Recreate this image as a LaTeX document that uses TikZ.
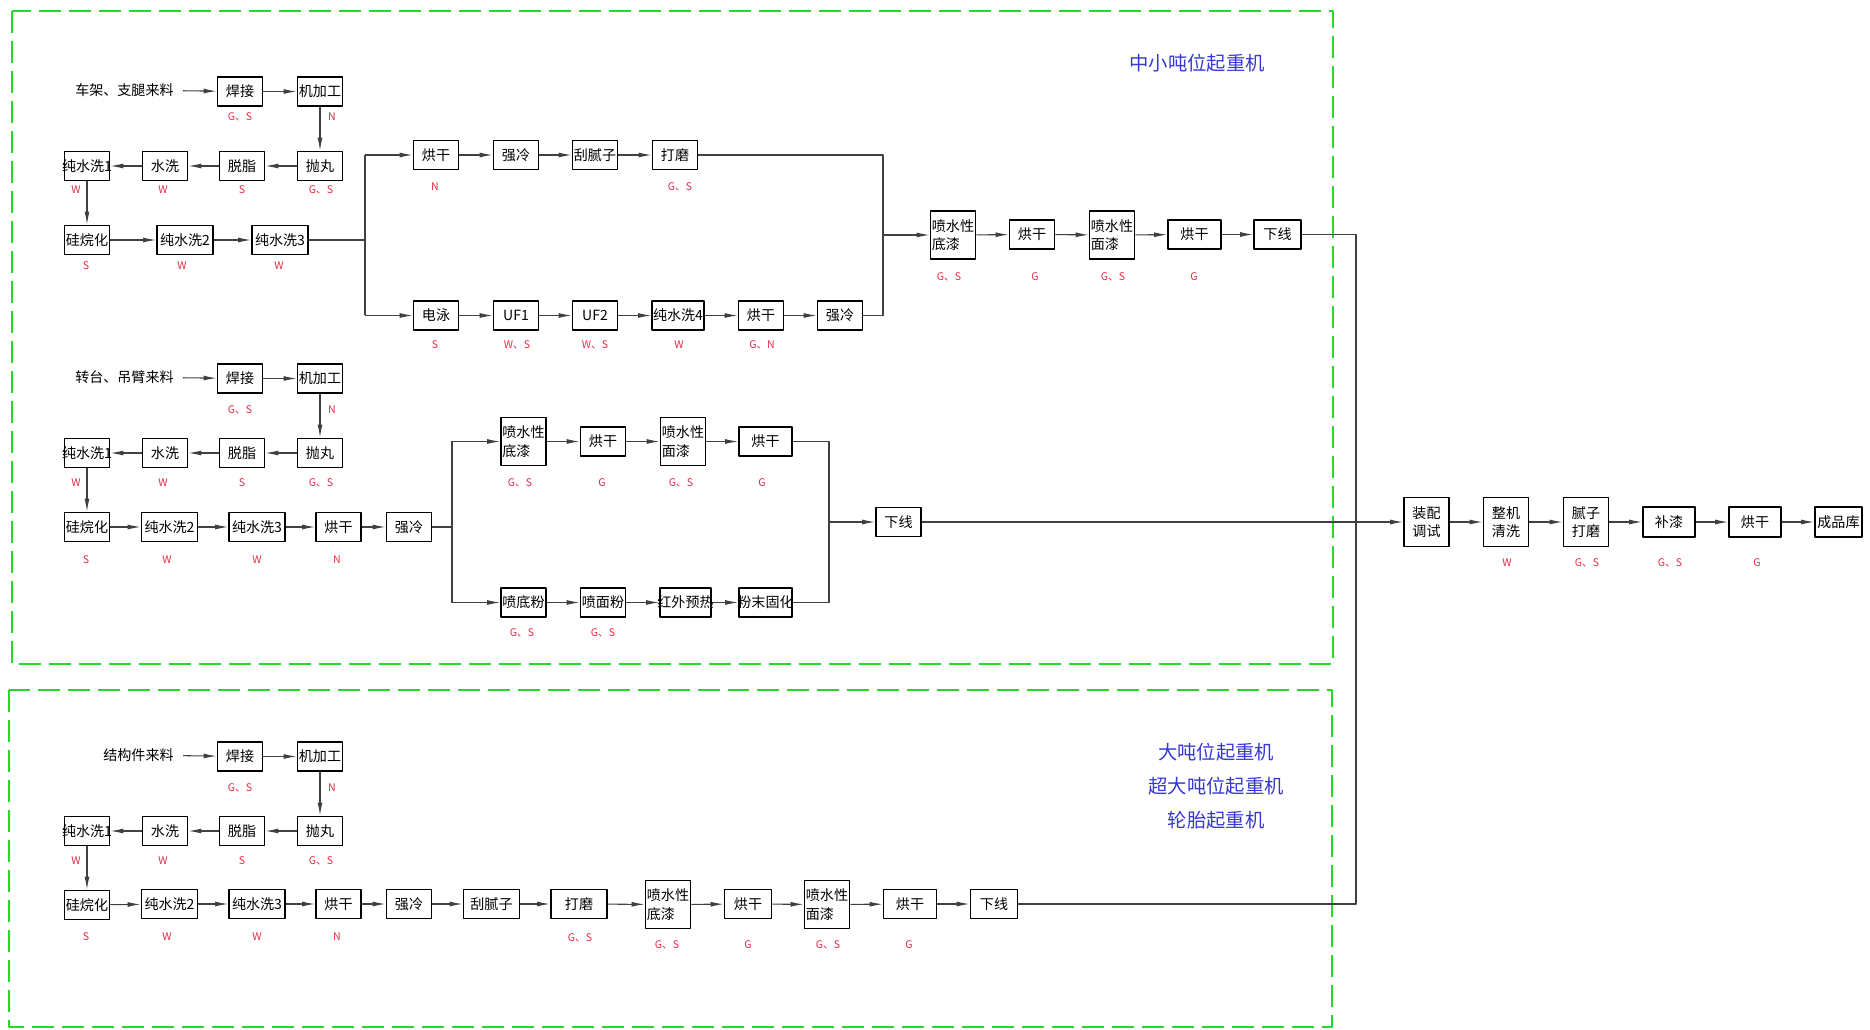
\documentclass[tikz,border=0pt]{standalone}
\usepackage{fontspec}
\setmainfont{Noto Sans CJK SC}
\usetikzlibrary{arrows.meta}
\definecolor{frame}{RGB}{40,215,40}
\definecolor{mark}{RGB}{225,45,70}
\definecolor{title}{RGB}{55,55,215}
\newcommand\fit[1]{\makebox[0.86cm]{#1}}

\begin{document}
\begin{tikzpicture}[x=0.02cm, y=-0.02cm, >={Latex[length=0.26cm,width=0.1cm]}, line join=round,
	box/.style={draw, line width=1.1pt, minimum width=0.9cm, minimum height=0.58cm, inner sep=0pt, font=\fontsize{8}{10}\selectfont},
	wide/.style={box, minimum width=1.12cm},
	tall/.style={box, minimum height=0.96cm, align=left, font=\fontsize{8}{10.5}\selectfont},
	twin/.style={box, minimum height=0.98cm, align=center, font=\fontsize{8}{10.5}\selectfont},
	src/.style={anchor=east, inner sep=0.18cm, font=\fontsize{8}{10}\selectfont},
	em/.style={text=mark, inner sep=0pt, font=\fontsize{6}{7}\selectfont},
	flow/.style={draw=black!75, line width=0.6pt},
	zone/.style={draw=frame, line width=1.4pt, dash pattern=on 0.44cm off 0.16cm}]
	\useasboundingbox (0,0) rectangle (1870,1030);
	\draw[zone] (12,11) rectangle (1333,664);
	\draw[zone] (9,690) rectangle (1332,1027);
	\node[text=title, font=\fontsize{11}{13}\selectfont] (T1) at (1197,63) {中小吨位起重机};
	\node[text=title, align=center, font=\fontsize{11}{19.5}\selectfont] (T2) at (1216,786) {大吨位起重机\\超大吨位起重机\\轮胎起重机};
	% 前处理 (三段相同)
	\foreach \s/\dy/\ly/\txt in {A/0/0/车架、支腿来料, B/287/293/转台、吊臂来料, C/665/671/结构件来料}{
		\node[src] (\s0) at (183,90+\dy) {\txt};
		\node[box] (\s1) at (240,91.5+\dy) {焊接};
		\node[box] (\s2) at (320,91.5+\dy) {机加工};
		\node[box] (\s3) at (320,166+\dy) {抛丸};
		\node[box] (\s4) at (242,166+\dy) {脱脂};
		\node[box] (\s5) at (165,166+\dy) {水洗};
		\node[box] (\s6) at (87,166+\dy) {\fit{纯水洗1}};
		\node[box] (\s7) at (87,240+\dy) {硅烷化};
		\node[em] (\s1e) at (240,117+\ly) {G、S};
		\node[em] (\s2e) at (332,117+\ly) {N};
		\node[em] (\s3e) at (321,190+\ly) {G、S};
		\node[em] (\s4e) at (242,190+\ly) {S};
		\node[em] (\s5e) at (163,190+\ly) {W};
		\node[em] (\s6e) at (76,190+\ly) {W};
		\foreach \a/\b in {0/1,1/2,2/3,3/4,4/5,5/6,6/7}
			\draw[flow,->] (\s\a) -- (\s\b);
	}
	% 中小吨位: 车架、支腿
	\node[wide] (A8) at (185,240) {纯水洗2};
	\node[wide] (A9) at (280,240) {纯水洗3};
	\node[box] (A10) at (436,155) {烘干};
	\node[box] (A11) at (516,155) {强冷};
	\node[box] (A12) at (595,155) {刮腻子};
	\node[box] (A13) at (675,155) {打磨};
	\node[box] (A14) at (436,315.5) {电泳};
	\node[box] (A15) at (516,315.5) {UF1};
	\node[box] (A16) at (595,315.5) {UF2};
	\node[box, minimum width=1.04cm] (A17) at (678,315.5) {\fit{纯水洗4}};
	\node[box] (A18) at (761,315.5) {烘干};
	\node[box] (A19) at (840,315.5) {强冷};
	\node[tall] (A20) at (953,235) {喷水性\\底漆};
	\node[box] (A21) at (1032,234.5) {烘干};
	\node[tall] (A22) at (1112,235) {喷水性\\面漆};
	\node[box, minimum width=1.06cm] (A23) at (1194.5,234.5) {烘干};
	\node[box, minimum width=0.94cm] (A24) at (1277.5,234.5) {下线};
	\foreach \n/\x/\y/\t in {A7e/86/266/S, A8e/182/266/W, A9e/279/266/W, A10e/435/187/N, A13e/680/187/G、S,
		A14e/435/345/S, A15e/517/345/W、S, A16e/595/345/W、S, A17e/679/345/W, A18e/762/345/G、N,
		A20e/949/277/G、S, A21e/1035/277/G, A22e/1113/277/G、S, A23e/1194/277/G}
		\node[em] (\n) at (\x,\y) {\t};
	\coordinate (Aj1) at (365,155);
	\coordinate (Aj2) at (365,315.5);
	\coordinate (Am1) at (883,155);
	\coordinate (Am2) at (883,315.5);
	\draw[flow,->] (A7) -- (A8);
	\draw[flow,->] (A8) -- (A9);
	\draw[flow] (A9) -- (A9 -| Aj1);
	\draw[flow] (Aj1) -- (Aj2);
	\draw[flow,->] (Aj1) -- (A10);
	\draw[flow,->] (Aj2) -- (A14);
	\draw[flow] (A13) -- (Am1) -- (Am2) -- (A19);
	\draw[flow,->] (Am1 |- A20) -- (A20);
	\foreach \a/\b in {10/11,11/12,12/13,14/15,15/16,16/17,17/18,18/19,20/21,21/22,22/23,23/24}
		\draw[flow,->] (A\a) -- (A\b);
	% 中小吨位: 转台、吊臂
	\node[wide] (B8) at (169.5,527) {纯水洗2};
	\node[wide] (B9) at (257,527) {纯水洗3};
	\node[box] (B10) at (338.5,527) {烘干};
	\node[box] (B11) at (409,527) {强冷};
	\node[tall] (B12) at (523.5,441.5) {喷水性\\底漆};
	\node[box] (B13) at (603,441.5) {烘干};
	\node[tall] (B14) at (683,441.5) {喷水性\\面漆};
	\node[box, minimum width=1.06cm] (B15) at (765.5,441.5) {烘干};
	\node[box] (B16) at (523.5,602.5) {喷底粉};
	\node[box] (B17) at (603,602.5) {喷面粉};
	\node[box, minimum width=1.02cm] (B18) at (685.5,602.5) {\fit{红外预热}};
	\node[box, minimum width=1.06cm] (B19) at (765.5,602.5) {\fit{粉末固化}};
	\node[box] (B20) at (898.5,522) {下线};
	\foreach \n/\x/\y/\t in {B7e/86/560/S, B8e/167/560/W, B9e/257/560/W, B10e/337/560/N,
		B12e/520/483/G、S, B13e/602/483/G, B14e/681/483/G、S, B15e/762/483/G,
		B16e/522/633/G、S, B17e/603/633/G、S}
		\node[em] (\n) at (\x,\y) {\t};
	\coordinate (Bj1) at (452,441.5);
	\coordinate (Bj2) at (452,602.5);
	\coordinate (Bm1) at (829,441.5);
	\coordinate (Bm2) at (829,602.5);
	\draw[flow] (B11) -- (B11 -| Bj1);
	\draw[flow] (Bj1) -- (Bj2);
	\draw[flow,->] (Bj1) -- (B12);
	\draw[flow,->] (Bj2) -- (B16);
	\draw[flow] (B15) -- (Bm1) -- (Bm2) -- (B19);
	\draw[flow,->] (Bm1 |- B20) -- (B20);
	\foreach \a/\b in {7/8,8/9,9/10,10/11,12/13,13/14,14/15,16/17,17/18,18/19}
		\draw[flow,->] (B\a) -- (B\b);
	% 大吨位、超大吨位、轮胎
	\node[wide] (C8) at (169.5,904) {纯水洗2};
	\node[wide] (C9) at (257,904) {纯水洗3};
	\node[box] (C10) at (338.5,904) {烘干};
	\node[box] (C11) at (409,904) {强冷};
	\node[wide] (C12) at (491.5,904) {刮腻子};
	\node[wide] (C13) at (579,904) {打磨};
	\node[tall] (C14) at (668,904.5) {喷水性\\底漆};
	\node[box, minimum width=0.94cm] (C15) at (748,904) {烘干};
	\node[tall] (C16) at (827,904.5) {喷水性\\面漆};
	\node[box, minimum width=1.06cm] (C17) at (910,904) {烘干};
	\node[box, minimum width=0.94cm] (C18) at (994,904) {下线};
	\foreach \n/\x/\y/\t in {C7e/86/937/S, C8e/167/937/W, C9e/257/937/W, C10e/337/937/N,
		C13e/580/938/G、S, C14e/667/945/G、S, C15e/748/945/G, C16e/828/945/G、S, C17e/909/945/G}
		\node[em] (\n) at (\x,\y) {\t};
	\foreach \a/\b in {7/8,8/9,9/10,10/11,11/12,12/13,13/14,14/15,15/16,16/17,17/18}
		\draw[flow,->] (C\a) -- (C\b);
	% 总装
	\node[twin] (D1) at (1426.5,522) {装配\\调试};
	\node[twin] (D2) at (1506,522) {整机\\清洗};
	\node[twin] (D3) at (1586,522) {腻子\\打磨};
	\node[box, minimum width=1.04cm, minimum height=0.6cm] (D4) at (1669,522) {补漆};
	\node[box, minimum width=1.04cm, minimum height=0.6cm] (D5) at (1755,522) {烘干};
	\node[box, minimum width=0.94cm, minimum height=0.6cm] (D6) at (1838.5,522) {成品库};
	\foreach \n/\x/\t in {D2e/1507/W, D3e/1587/G、S, D4e/1670/G、S, D5e/1757/G}
		\node[em] (\n) at (\x,563) {\t};
	\coordinate (Rt) at (1356,234.5);
	\coordinate (Rb) at (1356,904);
	\draw[flow] (A24) -- (Rt) -- (Rb) -- (C18);
	\draw[flow,->] (B20) -- (D1);
	\foreach \a/\b in {1/2,2/3,3/4,4/5,5/6}
		\draw[flow,->] (D\a) -- (D\b);
\end{tikzpicture}
\end{document}
